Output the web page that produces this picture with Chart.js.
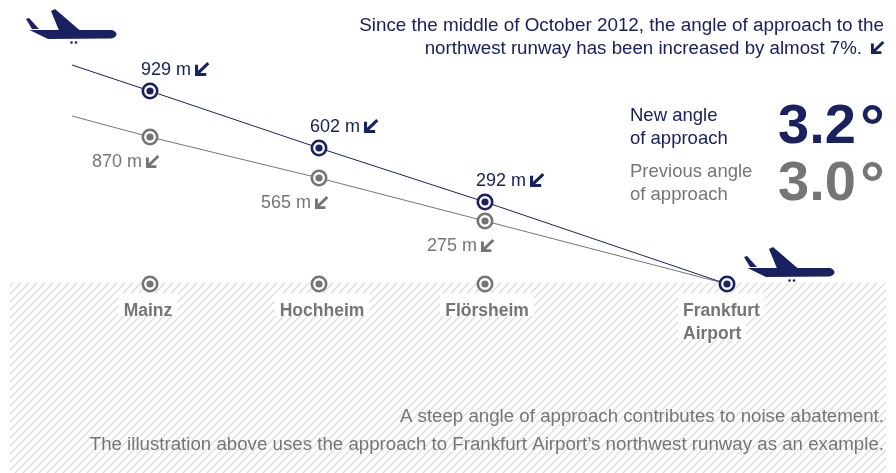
<!DOCTYPE html>
<html>
<head>
<meta charset="utf-8">
<style>
  html, body { margin: 0; padding: 0; background: #fff; }
  canvas { display: block; }
</style>
<script src="https://cdn.jsdelivr.net/npm/chart.js@4"></script>
</head>
<body>
<canvas id="chart1" width="896" height="473"></canvas>
<script>
// the illustration is not to scale, so the x and y
// values are drawing units (distance from the runway, height above ground)
var distances = [655, 577, 408, 242, 0];
var newHeights = [219, 193, 136, 82, 0];
var oldHeights = [168, 147, 106, 63, 0];

var newAltitudes = ['929 m', '602 m', '292 m'];
var oldAltitudes = ['870 m', '565 m', '275 m'];

var places = ['Mainz', 'Hochheim', 'Flörsheim', 'Frankfurt'];
var placeDistances = [577, 408, 242, 0];
var placeHeights = [0, 0, 0, 0];

var planeDistances = [656, -62];
var planeHeights = [258, 20];

var intro = ['Since the middle of October 2012, the angle of approach to the',
             'northwest runway has been increased by almost 7%.'];
var newAngle = ['New angle', 'of approach', '3.2'];
var oldAngle = ['Previous angle', 'of approach', '3.0'];
var notes = ['A steep angle of approach contributes to noise abatement.',
             'The illustration above uses the approach to Frankfurt Airport’s northwest runway as an example.'];

var NAVY = '#1a2161';
var GREY = '#757575';
var FONT = '"Liberation Sans", Arial, sans-serif';

function points(xs, ys) {
    return xs.map(function (x, i) { return { x: x, y: ys[i] }; });
}

// plane icon used as the point style
function planeIcon() {
    var c = document.createElement('canvas');
    c.width = 92;
    c.height = 36;
    var g = c.getContext('2d');
    g.translate(-25, -8);
    g.fillStyle = NAVY;
    g.beginPath(); // body
    g.moveTo(29.5, 30);
    g.lineTo(112, 30);
    g.quadraticCurveTo(116.5, 31.5, 116.5, 34.5);
    g.quadraticCurveTo(116, 37.5, 111, 38.6);
    g.lineTo(48, 39);
    g.closePath();
    g.fill();
    g.beginPath(); // wing
    g.moveTo(51, 11);
    g.lineTo(55, 9);
    g.lineTo(80, 30.5);
    g.lineTo(59, 30.5);
    g.closePath();
    g.fill();
    g.beginPath(); // tail
    g.moveTo(26, 19);
    g.lineTo(29, 18);
    g.lineTo(39, 29);
    g.lineTo(32, 29);
    g.closePath();
    g.fill();
    g.beginPath(); // wheels
    g.arc(71.5, 42.5, 1.3, 0, Math.PI * 2);
    g.arc(76, 42.5, 1.3, 0, Math.PI * 2);
    g.fill();
    return c;
}

function hatchPattern(ctx) {
    var c = document.createElement('canvas');
    c.width = 8;
    c.height = 8;
    var g = c.getContext('2d');
    g.strokeStyle = '#dcdcdc';
    g.lineWidth = 1.3;
    g.beginPath();
    g.moveTo(-2, 2); g.lineTo(2, -2);
    g.moveTo(-2, 10); g.lineTo(10, -2);
    g.moveTo(6, 10); g.lineTo(10, 6);
    g.stroke();
    return ctx.createPattern(c, 'repeat');
}

function text(ctx, str, x, y, font, color, align) {
    ctx.font = font + ' ' + FONT;
    ctx.fillStyle = color;
    ctx.textAlign = align || 'left';
    ctx.textBaseline = 'alphabetic';
    ctx.fillText(str, x, y);
}

// the small down-left arrow next to the altitudes
function arrow(ctx, x, y, size, color) {
    ctx.save();
    ctx.translate(x, y);
    ctx.scale(size, size);
    ctx.strokeStyle = color;
    ctx.lineWidth = 0.22;
    ctx.lineJoin = 'miter';
    ctx.lineCap = 'butt';
    ctx.beginPath();
    ctx.moveTo(0.95, 0.08);
    ctx.lineTo(0.15, 0.85);
    ctx.moveTo(0.11, 0.2);
    ctx.lineTo(0.11, 0.89);
    ctx.lineTo(0.8, 0.89);
    ctx.stroke();
    ctx.restore();
}

var hatch = {
    id: 'hatch',
    beforeDatasetsDraw: function (chart) {
        var ctx = chart.ctx;
        var top = chart.scales.y.getPixelForValue(0) - 1;
        ctx.save();
        ctx.fillStyle = hatchPattern(ctx);
        ctx.fillRect(10, top, 876, chart.height - top);
        ctx.restore();
    }
};

var annotations = {
    id: 'annotations',
    afterDatasetsDraw: function (chart) {
        var ctx = chart.ctx;
        var xs = chart.scales.x;
        var ys = chart.scales.y;
        ctx.save();

        // altitude labels along the two approach lines
        newAltitudes.forEach(function (label, i) {
            var px = xs.getPixelForValue(distances[i + 1]);
            var py = ys.getPixelForValue(newHeights[i + 1]);
            text(ctx, label, px - 9, py - 16, '18px', NAVY);
            arrow(ctx, px + 45, py - 29, 14, NAVY);
        });
        oldAltitudes.forEach(function (label, i) {
            var px = xs.getPixelForValue(distances[i + 1]);
            var py = ys.getPixelForValue(oldHeights[i + 1]);
            text(ctx, label, px - 58, py + 30, '18px', GREY);
            arrow(ctx, px - 4, py + 18, 13, GREY);
        });

        // place names on a white box
        var groundY = ys.getPixelForValue(0);
        places.forEach(function (name, i) {
            var px = xs.getPixelForValue(placeDistances[i]);
            var left = i === 3;
            var lines = left ? [name, 'Airport'] : [name];
            lines.forEach(function (line, j) {
                ctx.font = 'bold 17.5px ' + FONT;
                var w = ctx.measureText(line).width;
                var x = left ? px - 44 : px + [-2, 3, 2][i] - w / 2;
                ctx.fillStyle = 'rgba(255,255,255,0.92)';
                ctx.fillRect(x - 5, groundY + 9 + j * 23, w + 10, 23);
                text(ctx, line, x, groundY + 32 + j * 23, 'bold 17.5px', GREY);
            });
        });

        // intro, top right
        text(ctx, intro[0], 884, 31, '18.85px', NAVY, 'right');
        text(ctx, intro[1], 862, 54, '18.7px', NAVY, 'right');
        arrow(ctx, 871, 41, 13, NAVY);

        // angles, the degree sign is larger than the digits
        text(ctx, newAngle[0], 630, 121, '18.5px', NAVY);
        text(ctx, newAngle[1], 630, 144, '18.5px', NAVY);
        text(ctx, newAngle[2], 778, 143, 'bold 56px', NAVY);
        text(ctx, '°', 860, 148, 'bold 62px', NAVY);
        text(ctx, oldAngle[0], 630, 177, '18.5px', GREY);
        text(ctx, oldAngle[1], 630, 200, '18.5px', GREY);
        text(ctx, oldAngle[2], 778, 200, 'bold 56px', GREY);
        text(ctx, '°', 860, 205, 'bold 62px', GREY);

        // notes at the bottom
        text(ctx, notes[0], 884, 422, '18.7px', GREY, 'right');
        text(ctx, notes[1], 884, 450, '18.7px', GREY, 'right');
        ctx.restore();
    }
};

// chart.js paints the first dataset last, so the navy line comes first
var chart = new Chart(document.getElementById('chart1'), {
    type: 'scatter',
    data: {
        datasets: [{
            data: points(distances, newHeights),
            pointRadius: [0, 3.6, 3.6, 3.6, 3.6],
            pointBorderWidth: 0,
            pointBackgroundColor: NAVY
        }, {
            // new approach
            data: points(distances, newHeights),
            showLine: true,
            borderColor: NAVY,
            borderWidth: 1,
            pointRadius: [0, 7.2, 7.2, 7.2, 7.2],
            pointBorderWidth: 2.6,
            pointBorderColor: NAVY,
            pointBackgroundColor: '#fff'
        }, {
            data: points(distances, oldHeights),
            pointRadius: [0, 3.6, 3.6, 3.6, 0],
            pointBorderWidth: 0,
            pointBackgroundColor: GREY
        }, {
            // previous approach
            data: points(distances, oldHeights),
            showLine: true,
            borderColor: GREY,
            borderWidth: 1,
            pointRadius: [0, 7.2, 7.2, 7.2, 0],
            pointBorderWidth: 2.6,
            pointBorderColor: GREY,
            pointBackgroundColor: '#fff'
        }, {
            data: points(placeDistances, placeHeights),
            pointRadius: [3.6, 3.6, 3.6, 0],
            pointBorderWidth: 0,
            pointBackgroundColor: GREY
        }, {
            // towns on the ground
            data: points(placeDistances, placeHeights),
            pointRadius: [7.2, 7.2, 7.2, 0],
            pointBorderWidth: 2.6,
            pointBorderColor: GREY,
            pointBackgroundColor: '#fff'
        }, {
            data: points(planeDistances, planeHeights),
            pointStyle: planeIcon(),
            pointRadius: 10
        }]
    },
    options: {
        responsive: false,
        animation: false,
        layout: { padding: 0, autoPadding: false },
        plugins: { legend: { display: false }, tooltip: { enabled: false } },
        scales: {
            x: { display: false, reverse: true, min: -169, max: 727 },
            y: { display: false, min: -189, max: 284 }
        }
    },
    plugins: [hatch, annotations]
});
</script>
</body>
</html>
